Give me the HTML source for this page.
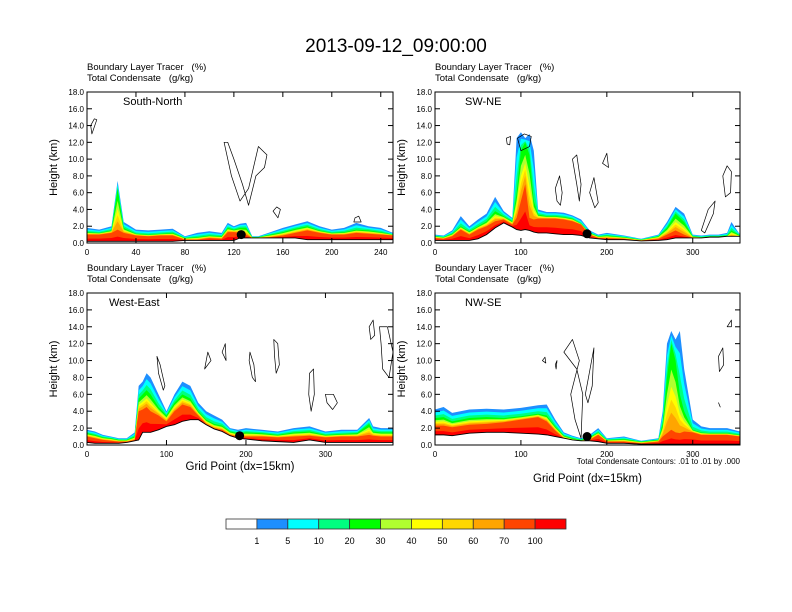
<!DOCTYPE html>
<html><head><meta charset="utf-8"><style>
html,body{margin:0;padding:0;background:#fff;}
svg{display:block;font-family:"Liberation Sans",sans-serif;}
</style></head><body>
<svg id="chart" width="792" height="612" viewBox="0 0 792 612">
<text x="396" y="52" text-anchor="middle" font-size="19">2013-09-12_09:00:00</text>
<g id="panels"></g>
<g id="colorbar"></g>
</svg>
<script>
// ---- data ----
const p1X=[0,10,20,25,30,40,50,60,70,80,90,100,110,115,120,125,130,135,140,150,160,170,180,190,200,210,220,230,240,250];
const p1Blue=[1.8,1.6,2.0,7.4,2.5,1.6,1.5,1.6,1.7,0.8,1.2,1.4,1.2,2.4,2.0,2.3,2.4,0.8,0.8,1.3,1.8,2.2,2.6,2.0,1.6,1.8,2.4,2.0,1.8,1.2];
const p1Green=[1.3,1.2,1.5,6.5,1.8,1.1,1.0,1.1,1.2,0.6,0.7,0.9,0.8,1.8,1.6,1.8,1.8,0.7,0.7,1.0,1.3,1.7,2.0,1.5,1.2,1.3,1.6,1.5,1.3,1.0];
const p1Red=[1.0,1.0,1.2,1.6,1.2,0.9,0.8,0.9,0.9,0.4,0.4,0.6,0.5,1.3,1.3,1.2,1.0,0.6,0.6,0.7,0.9,1.2,1.5,1.2,1.0,1.0,1.2,1.1,1.0,0.9];
const p1Terrain=[0.2,0.2,0.2,0.2,0.2,0.2,0.2,0.2,0.2,0.3,0.3,0.3,0.3,0.3,0.3,0.6,0.6,0.6,0.6,0.6,0.6,0.6,0.4,0.4,0.4,0.4,0.4,0.4,0.4,0.4];

const p2X=[0,10,20,30,40,50,60,70,80,90,95,100,105,110,115,120,130,140,150,160,170,180,190,200,220,240,260,270,280,290,300,310,320,330,340,345,355];
const p2Blue=[1.0,0.9,1.5,3.2,2.0,2.8,3.5,5.5,3.8,3.0,12.5,13.2,12.5,13.0,11.0,4.0,3.7,3.7,3.6,3.3,2.8,1.5,1.0,1.2,0.9,0.5,1.0,2.5,4.3,3.5,1.0,0.9,1.0,1.0,1.2,2.5,1.0];
const p2Green=[0.8,0.7,1.1,2.0,1.4,2.0,2.6,3.8,3.2,2.6,6.0,11.0,12.0,10.5,5.0,3.4,3.2,3.2,3.1,2.9,2.3,1.2,0.8,0.9,0.7,0.4,0.8,1.8,3.5,2.5,0.8,0.7,0.8,0.8,0.9,1.5,0.9];
const p2Red=[0.6,0.5,0.8,1.6,1.0,1.6,2.0,2.6,2.8,2.2,3.0,5.0,7.0,3.0,2.8,2.9,2.9,2.9,2.8,2.6,2.2,1.0,0.6,0.6,0.5,0.3,0.5,1.0,1.5,1.0,0.6,0.6,0.6,0.6,0.7,0.8,0.7];
const p2Terrain=[0.3,0.3,0.3,0.3,0.3,0.5,1.0,1.8,2.4,1.9,1.6,1.5,1.6,1.5,1.3,1.2,1.2,1.1,1.0,1.0,0.9,0.6,0.5,0.4,0.4,0.25,0.3,0.4,0.6,0.6,0.6,0.6,0.7,0.7,0.8,0.8,0.8];

const p3X=[0,10,20,30,40,50,60,65,70,75,80,90,100,110,120,130,140,150,160,170,180,190,200,220,240,260,280,300,320,340,355,360,370,385];
const p3Blue=[1.8,1.6,1.2,1.0,0.8,0.8,1.5,7.0,7.5,8.5,8.0,6.0,4.0,6.0,7.5,7.0,5.0,4.0,3.5,3.0,2.0,1.8,2.0,1.8,1.6,2.0,2.2,1.6,1.8,1.8,3.2,2.2,2.0,2.0];
const p3Green=[1.4,1.2,0.9,0.8,0.6,0.6,1.0,5.5,6.0,6.5,6.0,4.5,3.5,5.0,6.0,5.5,4.0,3.0,2.5,2.3,1.6,1.4,1.5,1.4,1.2,1.5,1.6,1.2,1.3,1.4,2.5,1.6,1.5,1.5];
const p3Red=[1.0,0.8,0.6,0.5,0.4,0.4,0.6,4.0,4.2,4.5,4.0,3.5,2.8,4.0,4.8,4.5,3.5,2.5,2.0,1.8,1.2,1.0,1.0,1.0,0.9,1.0,1.1,0.9,1.0,1.0,1.2,1.1,1.0,1.0];
const p3Terrain=[0.3,0.2,0.2,0.2,0.2,0.3,0.5,0.6,1.5,1.5,1.5,1.8,2.2,2.4,2.8,3.0,3.0,2.4,1.9,1.6,1.1,0.8,0.7,0.5,0.4,0.3,0.6,0.3,0.3,0.3,0.3,0.3,0.3,0.3];

const p4X=[0,10,20,40,60,80,100,120,130,140,150,160,170,180,190,200,220,240,260,265,270,275,280,285,290,300,310,320,340,355];
const p4Blue=[4.2,4.5,3.8,4.2,4.3,4.2,4.4,4.7,4.8,3.0,1.5,1.1,0.8,1.2,2.0,0.8,1.0,0.5,0.8,4.0,12,13.5,12.5,13.5,9,3.0,2.2,2.0,2.0,1.6];
const p4Green=[3.2,3.3,2.8,3.2,3.3,3.2,3.4,3.7,3.5,2.2,1.1,0.8,0.6,0.9,1.5,0.6,0.7,0.4,0.6,2.5,8,12,10,6,4,1.8,1.5,1.4,1.4,1.2];
const p4Red=[2.3,2.3,2.1,2.4,2.5,2.7,3.0,3.3,2.8,1.7,0.8,0.5,0.4,0.6,1.2,0.4,0.4,0.2,0.4,1.0,1.4,1.8,1.5,1.4,1.6,1.5,1.2,1.2,1.2,1.0];
const p4Terrain=[1.2,1.2,1.1,1.4,1.5,1.5,1.4,1.3,1.2,1.0,0.8,0.6,0.5,0.5,0.4,0.2,0.2,0.1,0.1,0.1,0.1,0.1,0.1,0.1,0.1,0.1,0.1,0.1,0.1,0.1];

const dotX=[126,177,192,177];
const dotH=[1.0,1.1,1.1,1.0];
const titles=["South-North","SW-NE","West-East","NW-SE"];
const xMax=[250,355,385,355];
const xTicks1=[0,40,80,120,160,200,240];
const xTicks234=[0,100,200,300];
const yTicks=[0,2,4,6,8,10,12,14,16,18];
const cbLabels=["1","5","10","20","30","40","50","60","70","100"];
const cbColors=["#ffffff","#1e8fff","#00ffff","#00ff80","#00ff00","#b0ff30","#ffff00","#ffd700","#ffa500","#ff4500","#ff0000"];
// contours: [x,h] closed loops per panel
const c1=[[[4,13],[8,14.7],[6,14.8],[3,14]],[[112,12],[118,8],[125,5],[132,6.5],[140,11.5],[147,10.5],[145,9],[138,8],[132,4.5],[127,7],[120,10],[115,12]],[[152,3.8],[156,3],[158,4],[155,4.3]],[[218,2.5],[224,2.5],[222,3.2],[219,3]]];
const c2=[[[83,12.5],[88,12.7],[87,11.7],[84,11.8]],[[96,12.5],[100,11],[110,11.5],[112,12.7],[104,13]],[[140,6.5],[145,8],[148,6],[146,4.5],[142,5]],[[160,10],[165,7],[168,5],[170,7],[165,10.5]],[[180,6],[185,7.8],[190,4.8],[186,4.2]],[[195,9.5],[200,10.7],[202,9]],[[335,8],[340,9.2],[345,8.5],[344,6],[338,5.5]],[[310,1.5],[318,4],[326,5],[324,3.5],[314,1.2]]];
const c3=[[[88,10.5],[92,9.5],[98,7],[96,6.5],[90,8.5]],[[148,9],[152,11],[156,10]],[[170,11],[174,12],[175,10]],[[205,11],[210,9.5],[212,7.5],[208,8],[204,10]],[[235,12.5],[240,12],[242,9.5],[238,8.5],[236,10.5]],[[280,8.5],[285,9],[286,6],[282,4],[279,6]],[[300,6],[310,6],[315,5],[309,4.2],[302,5]],[[355,14],[360,14.8],[362,13],[357,12.5]],[[368,14],[378,14],[385,11],[380,8],[372,9],[370,12]]];
const c4=[[[150,11],[160,12.5],[168,10],[158,6],[163,3],[170,0.8],[172,6],[165,9]],[[175,6],[185,11.5],[183,7],[178,5]],[[125,10],[128,10.4],[129,9.7]],[[140,9.5],[142,10],[141,9]],[[330,10.5],[335,11.5],[336,9.5],[331,8.7]],[[340,14],[345,14.8],[345,14]],[[330,5],[332,4.5]]];
</script>
<script>
const NS="http://www.w3.org/2000/svg";
const root=document.getElementById('panels');
const boxes=[{x:87,y:92,w:306,h:151},{x:435,y:92,w:305,h:151},{x:87,y:293,w:306,h:152},{x:435,y:293,w:305,h:152}];
const datasets=[[p1X,p1Blue,p1Green,p1Red,p1Terrain,c1],[p2X,p2Blue,p2Green,p2Red,p2Terrain,c2],[p3X,p3Blue,p3Green,p3Red,p3Terrain,c3],[p4X,p4Blue,p4Green,p4Red,p4Terrain,c4]];
function mk(tag,attrs,parent,txt){const e=document.createElementNS(NS,tag);for(const k in attrs)e.setAttribute(k,attrs[k]);if(txt!==undefined)e.textContent=txt;parent.appendChild(e);return e;}
datasets.forEach((d,i)=>{
  const b=boxes[i];const [xs,blue,green,red,ter,cons]=d;
  const sx=v=>b.x+v/xMax[i]*b.w; const sy=v=>b.y+b.h-v/18*b.h;
  const g=mk('g',{},root);
  
  
  const t1=mk('text',{x:b.x,y:b.y-22,'font-size':9.5},g,'Boundary Layer Tracer   (%)');
  
  t1.style.whiteSpace='pre';
  const t2=mk('text',{x:b.x,y:b.y-11,'font-size':9.5},g,'Total Condensate   (g/kg)');
  t2.style.whiteSpace='pre';
  const mix=(a,c,f)=>a.map((v,k)=>v+(c[k]-v)*f);
  const tops=[blue,mix(blue,green,0.35),mix(blue,green,0.7),green,mix(green,red,0.3),mix(green,red,0.5),mix(green,red,0.65),mix(green,red,0.8),red,mix(red,ter,0.6)];
  tops.forEach((tp,li)=>{
    let pts=`${sx(xs[0])},${sy(0)} `+xs.map((x,k)=>`${sx(x)},${sy(tp[k])}`).join(' ')+` ${sx(xs[xs.length-1])},${sy(0)}`;
    const pg=mk('polygon',{points:pts,fill:cbColors[li+1]},g);
    
    
  });
  let tp=`${sx(xs[0])},${sy(0)} `+xs.map((x,k)=>`${sx(x)},${sy(ter[k])}`).join(' ')+` ${sx(xs[xs.length-1])},${sy(0)}`;
  const tr=mk('polygon',{points:tp,fill:'#fff'},g);
  
  const tl=mk('polyline',{points:xs.map((x,k)=>`${sx(x)},${sy(ter[k])}`).join(' '),fill:'none',stroke:'#000','stroke-width':0.9},g);
  
  cons.forEach(c=>{
    const pth=mk('polygon',{points:c.map(p=>`${sx(p[0])},${sy(p[1])}`).join(' '),fill:'none',stroke:'#000','stroke-width':0.7,'stroke-linejoin':'round'},g);
    
  });
  const dot=mk('circle',{cx:sx(dotX[i]),cy:sy(dotH[i]),r:4.5,fill:'#000'},g);
  
  const fr=mk('rect',{x:b.x,y:b.y,width:b.w,height:b.h,fill:'none',stroke:'#000','stroke-width':1},g);
  
  const lb=mk('text',{x:b.x+(i==0?36:i==2?22:30),y:b.y+13,'font-size':11},g,titles[i]);
  
  yTicks.forEach(v=>{
    const y=sy(v);
    mk('line',{x1:b.x,x2:b.x+5,y1:y,y2:y,stroke:'#000'},g);
    mk('line',{x1:b.x+b.w,x2:b.x+b.w-5,y1:y,y2:y,stroke:'#000'},g);
    const tt=mk('text',{x:b.x-3,y:y+3,'font-size':8,'text-anchor':'end'},g,v.toFixed(1));
    
  });
  (i==0?xTicks1:xTicks234).forEach(v=>{
    const x=sx(v);
    mk('line',{x1:x,x2:x,y1:b.y+b.h,y2:b.y+b.h-5,stroke:'#000'},g);
    mk('line',{x1:x,x2:x,y1:b.y,y2:b.y+5,stroke:'#000'},g);
    const tt=mk('text',{x:x,y:b.y+b.h+12,'font-size':8,'text-anchor':'middle'},g,String(v));
    
  });
  const yt=mk('text',{x:0,y:0,'font-size':11,'text-anchor':'middle',transform:`translate(${b.x-30},${b.y+b.h/2}) rotate(-90)`},g,'Height (km)');
  
  if(i>=2){
    const xt=mk('text',{x:b.x+b.w/2,y:i==2?470:482,'font-size':11.5,'text-anchor':'middle'},g,'Grid Point (dx=15km)');
    
  }
  if(i==3){
    const ct=mk('text',{x:b.x+b.w,y:b.y+b.h+19,'font-size':8,'text-anchor':'end'},g,'Total Condensate Contours: .01 to .01 by .000');
    
  }
});
const cb=document.getElementById('colorbar');
const cw=340/cbColors.length;
cbColors.forEach((c,k)=>{
  const r=mk('rect',{x:226+k*cw,y:519,width:cw,height:10,fill:c,stroke:'#333','stroke-width':0.8},cb);
  
});
cbLabels.forEach((l,k)=>{
  const t=mk('text',{x:226+(k+1)*cw,y:544,'font-size':9,'text-anchor':'middle'},cb,l);
  
});
</script>
</body></html>
